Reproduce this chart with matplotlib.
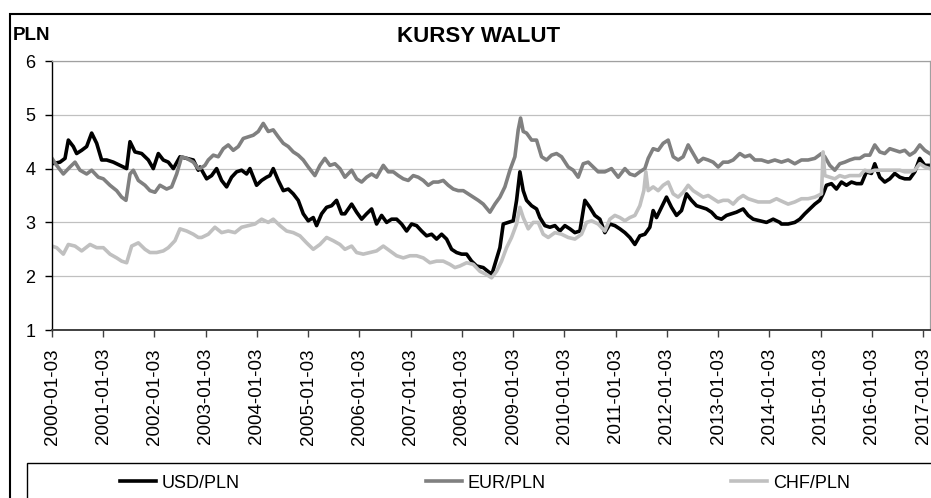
import matplotlib
matplotlib.use("Agg")
import matplotlib.pyplot as plt
from matplotlib.patches import Rectangle

# fonts
plt.rcParams['font.family'] = ['Liberation Sans', 'DejaVu Sans']

### Data: years counted from 2000-01-03 ###
usd_t = [2000.00, 2000.156, 2000.254, 2000.319, 2000.416, 2000.481, 2000.579, 2000.676, 2000.774, 2000.872,
         2000.969, 2001.067, 2001.197, 2001.327, 2001.457, 2001.522, 2001.620, 2001.750, 2001.880, 2001.977,
         2002.075, 2002.172, 2002.270, 2002.368, 2002.498, 2002.628, 2002.758, 2002.855, 2002.888, 2003.018,
         2003.115, 2003.213, 2003.310, 2003.408, 2003.505, 2003.603, 2003.701, 2003.798, 2003.863, 2003.993,
         2004.091, 2004.188, 2004.253, 2004.318, 2004.416, 2004.514, 2004.611, 2004.709, 2004.806, 2004.904,
         2005.001, 2005.099, 2005.164, 2005.262, 2005.359, 2005.457, 2005.554, 2005.652, 2005.717, 2005.848,
         2005.945, 2006.043, 2006.140, 2006.238, 2006.335, 2006.433, 2006.531, 2006.628, 2006.726, 2006.823,
         2006.921, 2007.018, 2007.116, 2007.213, 2007.311, 2007.409, 2007.506, 2007.604, 2007.701, 2007.799,
         2007.896, 2007.994, 2008.092, 2008.189, 2008.287, 2008.417, 2008.547, 2008.580, 2008.644, 2008.742,
         2008.807, 2008.904, 2009.002, 2009.067, 2009.132, 2009.197, 2009.262, 2009.360, 2009.457, 2009.522,
         2009.620, 2009.717, 2009.815, 2009.912, 2010.010, 2010.108, 2010.205, 2010.303, 2010.400, 2010.498,
         2010.595, 2010.693, 2010.790, 2010.888, 2010.986, 2011.083, 2011.181, 2011.278, 2011.376, 2011.473,
         2011.571, 2011.668, 2011.733, 2011.798, 2011.896, 2011.993, 2012.091, 2012.189, 2012.286, 2012.384,
         2012.481, 2012.579, 2012.676, 2012.774, 2012.871, 2012.969, 2013.067, 2013.164, 2013.262, 2013.359,
         2013.489, 2013.587, 2013.685, 2013.815, 2013.945, 2014.075, 2014.205, 2014.237, 2014.367, 2014.497,
         2014.595, 2014.692, 2014.790, 2014.888, 2014.985, 2015.050, 2015.115, 2015.213, 2015.310, 2015.408,
         2015.505, 2015.603, 2015.700, 2015.798, 2015.896, 2015.993, 2016.058, 2016.156, 2016.253, 2016.351,
         2016.448, 2016.546, 2016.643, 2016.741, 2016.839, 2016.936, 2017.034, 2017.131]
usd_v = [4.09, 4.12, 4.19, 4.53, 4.41, 4.28, 4.34, 4.41, 4.66, 4.47,
         4.16, 4.16, 4.12, 4.06, 4.00, 4.50, 4.31, 4.28, 4.16, 4.00,
         4.28, 4.16, 4.12, 4.00, 4.22, 4.19, 4.16, 3.97, 4.03, 3.81,
         3.87, 4.00, 3.78, 3.66, 3.84, 3.94, 3.97, 3.90, 4.00, 3.69,
         3.78, 3.84, 3.87, 4.00, 3.78, 3.59, 3.62, 3.53, 3.41, 3.16,
         3.03, 3.09, 2.94, 3.16, 3.28, 3.31, 3.41, 3.16, 3.16, 3.34,
         3.19, 3.06, 3.16, 3.25, 2.97, 3.13, 3.00, 3.06, 3.06, 2.97,
         2.84, 2.97, 2.94, 2.84, 2.75, 2.78, 2.69, 2.78, 2.69, 2.50,
         2.44, 2.41, 2.41, 2.28, 2.19, 2.16, 2.06, 2.02, 2.22, 2.53,
         2.97, 3.00, 3.03, 3.41, 3.94, 3.59, 3.41, 3.31, 3.25, 3.09,
         2.94, 2.91, 2.94, 2.84, 2.94, 2.88, 2.81, 2.84, 3.41, 3.28,
         3.13, 3.06, 2.81, 2.97, 2.94, 2.88, 2.81, 2.72, 2.59, 2.75,
         2.78, 2.91, 3.22, 3.09, 3.28, 3.47, 3.28, 3.13, 3.22, 3.53,
         3.41, 3.31, 3.28, 3.25, 3.19, 3.09, 3.06, 3.13, 3.16, 3.19,
         3.25, 3.13, 3.06, 3.03, 3.00, 3.06, 3.00, 2.97, 2.97, 3.00,
         3.06, 3.16, 3.25, 3.34, 3.41, 3.53, 3.69, 3.72, 3.62, 3.75,
         3.69, 3.75, 3.72, 3.72, 3.94, 3.91, 4.09, 3.84, 3.75, 3.81,
         3.91, 3.84, 3.81, 3.81, 3.94, 4.19, 4.06, 4.06]

eur_t = [2000.00, 2000.091, 2000.221, 2000.351, 2000.449, 2000.546, 2000.676, 2000.774, 2000.904, 2001.002,
         2001.132, 2001.262, 2001.359, 2001.444, 2001.522, 2001.587, 2001.685, 2001.815, 2001.912, 2002.010,
         2002.107, 2002.237, 2002.335, 2002.433, 2002.530, 2002.628, 2002.758, 2002.855, 2002.888, 2002.985,
         2003.050, 2003.148, 2003.245, 2003.343, 2003.440, 2003.538, 2003.636, 2003.733, 2003.831, 2003.928,
         2004.026, 2004.123, 2004.221, 2004.318, 2004.416, 2004.514, 2004.611, 2004.709, 2004.806, 2004.904,
         2005.001, 2005.131, 2005.229, 2005.326, 2005.424, 2005.522, 2005.619, 2005.717, 2005.848, 2005.945,
         2006.043, 2006.140, 2006.238, 2006.335, 2006.466, 2006.563, 2006.661, 2006.758, 2006.856, 2006.953,
         2007.051, 2007.148, 2007.246, 2007.344, 2007.441, 2007.539, 2007.636, 2007.734, 2007.831, 2007.929,
         2008.027, 2008.124, 2008.222, 2008.319, 2008.417, 2008.547, 2008.644, 2008.742, 2008.839, 2008.937,
         2009.034, 2009.099, 2009.145, 2009.197, 2009.262, 2009.360, 2009.457, 2009.555, 2009.652, 2009.750,
         2009.847, 2009.945, 2010.075, 2010.173, 2010.270, 2010.368, 2010.465, 2010.563, 2010.660, 2010.790,
         2010.920, 2011.051, 2011.181, 2011.278, 2011.376, 2011.473, 2011.571, 2011.636, 2011.733, 2011.831,
         2011.928, 2012.026, 2012.124, 2012.221, 2012.319, 2012.416, 2012.514, 2012.611, 2012.709, 2012.806,
         2012.904, 2013.002, 2013.099, 2013.197, 2013.294, 2013.424, 2013.522, 2013.620, 2013.717, 2013.847,
         2013.977, 2014.107, 2014.237, 2014.367, 2014.497, 2014.627, 2014.757, 2014.888, 2015.018, 2015.083,
         2015.180, 2015.278, 2015.375, 2015.473, 2015.570, 2015.668, 2015.766, 2015.863, 2015.961, 2016.058,
         2016.156, 2016.253, 2016.351, 2016.448, 2016.546, 2016.643, 2016.741, 2016.839, 2016.936, 2017.034,
         2017.131]
eur_v = [4.19, 4.06, 3.90, 4.03, 4.12, 3.97, 3.90, 3.97, 3.84, 3.81,
         3.69, 3.59, 3.47, 3.41, 3.90, 3.97, 3.78, 3.69, 3.59, 3.56,
         3.69, 3.62, 3.66, 3.90, 4.22, 4.19, 4.12, 4.00, 4.00, 4.06,
         4.16, 4.25, 4.22, 4.37, 4.44, 4.34, 4.41, 4.56, 4.59, 4.62,
         4.69, 4.84, 4.69, 4.72, 4.59, 4.47, 4.41, 4.31, 4.25, 4.16,
         4.03, 3.87, 4.06, 4.19, 4.06, 4.09, 4.00, 3.84, 3.97, 3.81,
         3.75, 3.84, 3.90, 3.84, 4.06, 3.94, 3.94, 3.87, 3.81, 3.78,
         3.87, 3.84, 3.78, 3.69, 3.75, 3.75, 3.78, 3.69, 3.62, 3.59,
         3.59, 3.53, 3.47, 3.41, 3.34, 3.19, 3.34, 3.47, 3.66, 3.97,
         4.22, 4.72, 4.94, 4.69, 4.66, 4.53, 4.53, 4.22, 4.16, 4.25,
         4.28, 4.22, 4.03, 3.97, 3.84, 4.09, 4.12, 4.03, 3.94, 3.94,
         4.00, 3.84, 4.00, 3.90, 3.87, 3.94, 4.00, 4.19, 4.37, 4.34,
         4.47, 4.53, 4.22, 4.16, 4.22, 4.44, 4.28, 4.12, 4.19, 4.16,
         4.12, 4.03, 4.12, 4.12, 4.16, 4.28, 4.22, 4.25, 4.16, 4.16,
         4.12, 4.16, 4.12, 4.16, 4.09, 4.16, 4.16, 4.19, 4.28, 4.22,
         4.06, 3.97, 4.09, 4.12, 4.16, 4.19, 4.19, 4.25, 4.25, 4.44,
         4.31, 4.28, 4.37, 4.34, 4.31, 4.34, 4.25, 4.31, 4.44, 4.34,
         4.28]

chf_t = [2000.00, 2000.091, 2000.221, 2000.319, 2000.449, 2000.579, 2000.742, 2000.872, 2001.002, 2001.132,
         2001.262, 2001.359, 2001.457, 2001.555, 2001.685, 2001.815, 2001.912, 2002.042, 2002.172, 2002.270,
         2002.400, 2002.498, 2002.628, 2002.758, 2002.855, 2002.920, 2003.050, 2003.180, 2003.310, 2003.440,
         2003.571, 2003.701, 2003.831, 2003.961, 2004.091, 2004.221, 2004.318, 2004.449, 2004.579, 2004.709,
         2004.839, 2004.969, 2005.099, 2005.229, 2005.359, 2005.489, 2005.619, 2005.717, 2005.848, 2005.945,
         2006.075, 2006.205, 2006.335, 2006.466, 2006.596, 2006.726, 2006.856, 2006.986, 2007.116, 2007.246,
         2007.376, 2007.506, 2007.636, 2007.766, 2007.864, 2007.961, 2008.092, 2008.222, 2008.352, 2008.482,
         2008.579, 2008.677, 2008.774, 2008.872, 2008.969, 2009.067, 2009.132, 2009.197, 2009.295, 2009.392,
         2009.490, 2009.587, 2009.685, 2009.815, 2009.945, 2010.075, 2010.205, 2010.335, 2010.433, 2010.530,
         2010.660, 2010.790, 2010.888, 2010.986, 2011.083, 2011.181, 2011.278, 2011.376, 2011.473, 2011.551,
         2011.590, 2011.636, 2011.733, 2011.831, 2011.928, 2012.026, 2012.124, 2012.221, 2012.319, 2012.416,
         2012.514, 2012.611, 2012.709, 2012.806, 2012.904, 2013.002, 2013.099, 2013.197, 2013.294, 2013.392,
         2013.489, 2013.587, 2013.685, 2013.782, 2013.880, 2014.010, 2014.140, 2014.205, 2014.367, 2014.497,
         2014.627, 2014.757, 2014.888, 2015.018, 2015.050, 2015.083, 2015.180, 2015.278, 2015.375, 2015.473,
         2015.570, 2015.668, 2015.766, 2015.863, 2015.961, 2016.058, 2016.156, 2016.253, 2016.351, 2016.448,
         2016.546, 2016.643, 2016.741, 2016.839, 2016.936, 2017.034, 2017.131]
chf_v = [2.56, 2.53, 2.41, 2.59, 2.56, 2.47, 2.59, 2.53, 2.53, 2.41,
         2.34, 2.28, 2.25, 2.56, 2.62, 2.50, 2.44, 2.44, 2.47, 2.53,
         2.66, 2.88, 2.84, 2.78, 2.72, 2.72, 2.78, 2.91, 2.81, 2.84,
         2.81, 2.91, 2.94, 2.97, 3.06, 3.00, 3.06, 2.94, 2.84, 2.81,
         2.75, 2.62, 2.50, 2.59, 2.72, 2.66, 2.59, 2.50, 2.56, 2.44,
         2.41, 2.44, 2.47, 2.56, 2.47, 2.38, 2.34, 2.38, 2.38, 2.34,
         2.25, 2.28, 2.28, 2.22, 2.16, 2.19, 2.25, 2.22, 2.09, 2.03,
         1.97, 2.09, 2.28, 2.53, 2.72, 2.97, 3.28, 3.09, 2.88, 3.00,
         3.00, 2.78, 2.72, 2.81, 2.78, 2.72, 2.69, 2.78, 3.00, 3.03,
         2.97, 2.84, 3.06, 3.13, 3.09, 3.03, 3.09, 3.13, 3.31, 3.59,
         3.94, 3.59, 3.66, 3.59, 3.69, 3.75, 3.53, 3.47, 3.56, 3.69,
         3.59, 3.53, 3.47, 3.50, 3.44, 3.38, 3.41, 3.41, 3.34, 3.44,
         3.50, 3.44, 3.41, 3.38, 3.38, 3.38, 3.44, 3.41, 3.34, 3.38,
         3.44, 3.44, 3.47, 3.53, 4.31, 3.87, 3.84, 3.81, 3.87, 3.84,
         3.87, 3.87, 3.87, 3.97, 3.94, 3.97, 3.97, 3.97, 3.97, 3.97,
         3.97, 3.94, 3.94, 3.97, 4.09, 4.03, 4.00]

series_names = ['USD/PLN', 'EUR/PLN', 'CHF/PLN']
series_colors = ['black', '#808080', '#c0c0c0']
tick_years = list(range(2000, 2018))
tick_labels = [f'{y}-01-03' for y in tick_years]

### Figure ###
W, H, dpi = 931, 498, 100
fig = plt.figure(figsize=(W / dpi, H / dpi), dpi=dpi)
ax = fig.add_axes([52 / W, 1 - 330 / H, (930 - 52) / W, (330 - 61) / H])

for t, v, name, col in zip([usd_t, eur_t, chf_t], [usd_v, eur_v, chf_v], series_names, series_colors):
    ax.plot(t, v, color=col, lw=2.6, label=name, solid_joinstyle='round')

ax.set_xlim(2000, 2017.136)
ax.set_ylim(1, 6)
ax.set_yticks([1, 2, 3, 4, 5, 6])
ax.set_xticks(tick_years)
ax.set_xticklabels(tick_labels, rotation=90, fontsize=13.5)
ax.tick_params(axis='y', labelsize=13, length=5, width=1, pad=7, direction='out')
ax.tick_params(axis='x', length=5, width=1, pad=8, direction='out', color='#404040')
ax.grid(axis='y', color='#c0c0c0', lw=0.9)
ax.set_axisbelow(True)

ax.spines['left'].set_color('black')
ax.spines['left'].set_linewidth(1)
ax.spines['bottom'].set_color('#404040')
ax.spines['bottom'].set_linewidth(1.4)
ax.spines['top'].set_color('#a0a0a0')
ax.spines['right'].set_color('#a0a0a0')
ax.spines['top'].set_linewidth(0.9)
ax.spines['right'].set_linewidth(0.9)

# titles
fig.text(479 / W, 1 - 36 / H, 'KURSY WALUT', ha='center', va='center', fontsize=16, fontweight='bold')
fig.text(13 / W, 1 - 35 / H, 'PLN', ha='left', va='center', fontsize=13.5, fontweight='bold')

# outer frame, running off the right and bottom edges
fig.add_artist(Rectangle((10 / W, -0.1), 1.2, 1.1 - 14 / H, transform=fig.transFigure,
                         fill=False, ec='black', lw=1.5, clip_on=False))
# legend box
fig.add_artist(Rectangle((27 / W, -0.1), 1.2, 0.1 + 1 - 463 / H, transform=fig.transFigure,
                         fill=False, ec='black', lw=1.0, clip_on=False))

handles, labels = ax.get_legend_handles_labels()
fig.legend(handles, labels, loc='center left', bbox_to_anchor=(120 / W, 1 - 483 / H),
           ncol=3, frameon=False, fontsize=13, handlelength=2.0, handletextpad=0.3,
           columnspacing=10.3, borderpad=0, borderaxespad=0)

fig.savefig('out.png', dpi=dpi)
